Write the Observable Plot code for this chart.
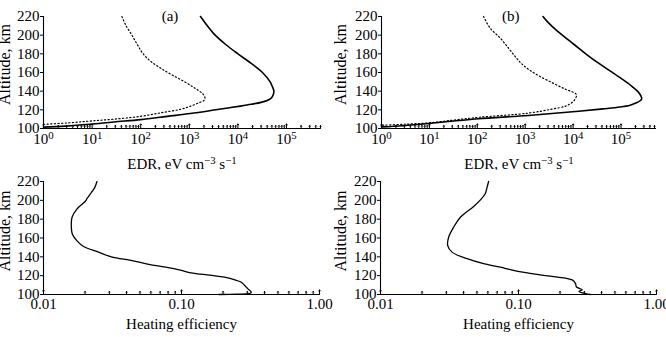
<!DOCTYPE html>
<html><head><meta charset="utf-8">
<script src="https://cdn.jsdelivr.net/npm/d3@7"></script>
<script src="https://cdn.jsdelivr.net/npm/@observablehq/plot@0.6"></script>
<style>
body{margin:0;background:#fff;}
#wrap{position:relative;width:666px;height:337px;overflow:hidden;background:#fff;}
.p{position:absolute;}
</style></head><body><div id="wrap"></div>
<script>
// ---- data ----
const altTicks = [100,120,140,160,180,200,220];
const edrMajor = [1,10,100,1000,1e4,1e5];
const edrMinor = [2,3,4,5,6,7,8,9,20,30,40,50,60,70,80,90,200,300,400,500,600,700,800,900,
  2000,3000,4000,5000,6000,7000,8000,9000,2e4,3e4,4e4,5e4,6e4,7e4,8e4,9e4,2e5,3e5,4e5,5e5];
const effMajor = [0.01,0.1,1];
const effMinor = [0.02,0.03,0.04,0.05,0.06,0.07,0.08,0.09,0.2,0.3,0.4,0.5,0.6,0.7,0.8,0.9];

// panel (a) EDR, solid
const altA1 = [220,210,200,190,180,170,160,150,145,140,135,132,130,128,126,124,122,120,116,113,109.5,107,104.5,102.5,101.5];
const edrA1 = [1700,2350,3400,5600,1.0e4,1.85e4,3.2e4,4.6e4,5.1e4,5.5e4,5.2e4,4.7e4,4.0e4,3.0e4,1.9e4,1.12e4,6300,3500,1050,350,100,28,9,2.8,1];
// panel (a) EDR, dotted
const altA2 = [220,210,200,190,180,172,165,158,150,143,137,133,130,128,124,120.5,117,113,110,108,106,104.5];
const edrA2 = [41,50,66,85,112,160,250,420,800,1320,1900,2100,2000,1650,1070,650,270,98,28,9.3,3.2,1];
// panel (b) EDR, solid
const altB1 = [220,214.5,207,199,190,179,170,161.5,153,145.5,140,135,132,130,127.5,125,123,121,118.5,114,110.5,108,105.3,103,101.7];
const edrB1 = [2350,2900,4100,6300,1.05e4,1.95e4,3.4e4,6.0e4,1.05e5,1.66e5,2.2e5,2.6e5,2.7e5,2.55e5,2.1e5,1.55e5,9.5e4,4.2e4,1.3e4,1170,107,32,9.5,2.8,1];
// panel (b) EDR, dotted
const altB2 = [220,207.5,197,186,177,170,163,156,148,142,137.5,135.5,133.5,130,127,124,120.5,116.5,112,109,106,104.5,103.5];
const edrB2 = [135,186,300,450,620,820,1200,2000,4000,7000,1.12e4,1.18e4,1.15e4,1.05e4,9000,7000,3400,1170,107,32,9.5,2.8,1];
// heating efficiency (a)
const altHA = [220,213.5,206.5,202.5,199,191,182,173,164,157,151,145,140,136,132,129,125.5,123,120.5,118.5,115,113,110,106,102.5,101.3,100.4,100];
const effHA = [0.0244,0.0235,0.0218,0.0208,0.0201,0.0175,0.0161,0.0159,0.0162,0.0175,0.0195,0.0251,0.031,0.0438,0.058,0.0767,0.100,0.117,0.16,0.205,0.25,0.271,0.285,0.303,0.32,0.315,0.25,0.187];
// heating efficiency (b)
const altHB = [220,213,207,200.5,193.5,182,171.5,161,152,145,138,133,129,126,123.5,121,119,115.5,111.5,108,105,103.2,101.8,100];
const effHB = [0.0607,0.059,0.0574,0.053,0.0473,0.0379,0.0339,0.0312,0.0307,0.033,0.0424,0.055,0.0737,0.09,0.11,0.14,0.18,0.245,0.259,0.263,0.29,0.274,0.29,0.333];

const tags = [{label:"(a)", edr:400, alt:220},{label:"(b)", edr:500, alt:220}];
const yLabel = "Altitude, km";
const edrLabel = "EDR, eV cm^{−3} s^{−1}";
const effLabel = "Heating efficiency";

// ---- helpers ----
const FONT = "Liberation Serif, Times New Roman, serif";
const zip = (a, v) => a.map((alt, i) => ({alt, v: v[i]}));

function supify(svg) {
  svg.querySelectorAll("text").forEach(t => {
    const s = t.textContent;
    if (!s.includes("^{")) return;
    t.textContent = "";
    const parts = s.split(/(\^\{[^}]*\})/);
    let raised = false;
    for (const part of parts) {
      if (!part) continue;
      const ts = document.createElementNS("http://www.w3.org/2000/svg", "tspan");
      if (part.startsWith("^{")) {
        ts.textContent = part.slice(2, -1);
        ts.setAttribute("font-size", "0.72em");
        ts.setAttribute("dy", "-0.5em");
        raised = true;
      } else {
        ts.textContent = part;
        if (raised) { ts.setAttribute("dy", "0.36em"); raised = false; }
      }
      t.appendChild(ts);
    }
  });
  return svg;
}

function panel(opts) {
  const {height, marginLeft, marginRight, marginTop, marginBottom, x, major, minor, fmt,
         tickPad, lines, tag, xlabel, xlabelDy, ylabelDx, ylabelDy} = opts;
  const marks = [
    Plot.ruleX([x.domain[0]], {stroke:"#000", strokeWidth:1.1}),
    Plot.ruleY([100], {stroke:"#000", strokeWidth:1.1}),
    Plot.axisY({ticks: altTicks, tickSize: 3, tickPadding: 1, label: null, tickFormat: d => d, stroke:"#000"}),
    Plot.axisX({ticks: major, tickSize: 0, tickPadding: tickPad, label: null, tickFormat: fmt}),
    Plot.vector(major, {x: d => d, frameAnchor: "bottom", length: 4.5, anchor: "start", stroke: "#000", strokeWidth: 1}),
    Plot.vector(minor, {x: d => d, frameAnchor: "bottom", length: 3, anchor: "start", stroke: "#000", strokeWidth: 1}),
    ...lines,
    Plot.text([xlabel], {frameAnchor: "bottom", dy: xlabelDy, lineAnchor: "middle", textAnchor: "middle", fontSize: 15}),
    Plot.text([yLabel], {frameAnchor: "left", rotate: -90, dx: ylabelDx, dy: ylabelDy, lineAnchor: "middle", textAnchor: "middle", fontSize: 16})
  ];
  if (tag) marks.push(Plot.text([tag], {x: "edr", y: "alt", text: "label", fontSize: 15, lineAnchor: "middle"}));
  const svg = Plot.plot({
    width: 333, height, marginLeft, marginRight, marginTop, marginBottom,
    style: {fontFamily: FONT, fontSize: "15px", color: "#000", background: "#fff", overflow: "visible"},
    x, y: {domain: [100, 220]},
    marks
  });
  return supify(svg);
}

const edrFmt = d => `10^{${Math.round(Math.log10(d))}}`;
const effFmt = d3.format(".2f");
const solid = (a, v) => Plot.line(zip(a, v), {x: "v", y: "alt", stroke: "#000", strokeWidth: 1.6, curve: "catmull-rom"});
const dotted = (a, v) => Plot.line(zip(a, v), {x: "v", y: "alt", stroke: "#000", strokeWidth: 1.2, strokeDasharray: "1.2,2.4", curve: "catmull-rom"});
const heat = (a, v) => Plot.line(zip(a, v), {x: "v", y: "alt", stroke: "#000", strokeWidth: 1.3, curve: "catmull-rom"});

const wrap = document.getElementById("wrap");
function place(svg, left, top) {
  const d = document.createElement("div");
  d.className = "p"; d.style.left = left + "px"; d.style.top = top + "px";
  d.appendChild(svg); wrap.appendChild(d);
}

place(panel({height:170, marginLeft:43, marginRight:13, marginTop:16, marginBottom:42,
  x:{type:"log", domain:[1,5e5]}, major: edrMajor, minor: edrMinor, fmt: edrFmt, tickPad: 5,
  lines:[dotted(altA2, edrA2), solid(altA1, edrA1)], tag: tags[0],
  xlabel: edrLabel, xlabelDy: 36, ylabelDx: -39, ylabelDy: -8}), 0, 0);

place(panel({height:170, marginLeft:48, marginRight:10, marginTop:16, marginBottom:42,
  x:{type:"log", domain:[1,5.5e5]}, major: edrMajor, minor: edrMinor, fmt: edrFmt, tickPad: 5,
  lines:[dotted(altB2, edrB2), solid(altB1, edrB1)], tag: tags[1],
  xlabel: edrLabel, xlabelDy: 36, ylabelDx: -41, ylabelDy: -8}), 333, 0);

place(panel({height:167, marginLeft:43, marginRight:14, marginTop:11, marginBottom:43,
  x:{type:"log", domain:[0.01,1]}, major: effMajor, minor: effMinor, fmt: effFmt, tickPad: 3.5,
  lines:[heat(altHA, effHA)], tag: null,
  xlabel: effLabel, xlabelDy: 29.5, ylabelDx: -39, ylabelDy: -7}), 0, 170);

place(panel({height:167, marginLeft:47, marginRight:10, marginTop:11, marginBottom:43,
  x:{type:"log", domain:[0.01,1]}, major: effMajor, minor: effMinor, fmt: effFmt, tickPad: 3.5,
  lines:[heat(altHB, effHB)], tag: null,
  xlabel: effLabel, xlabelDy: 29.5, ylabelDx: -40, ylabelDy: -7}), 333, 170);
</script>
</body></html>
